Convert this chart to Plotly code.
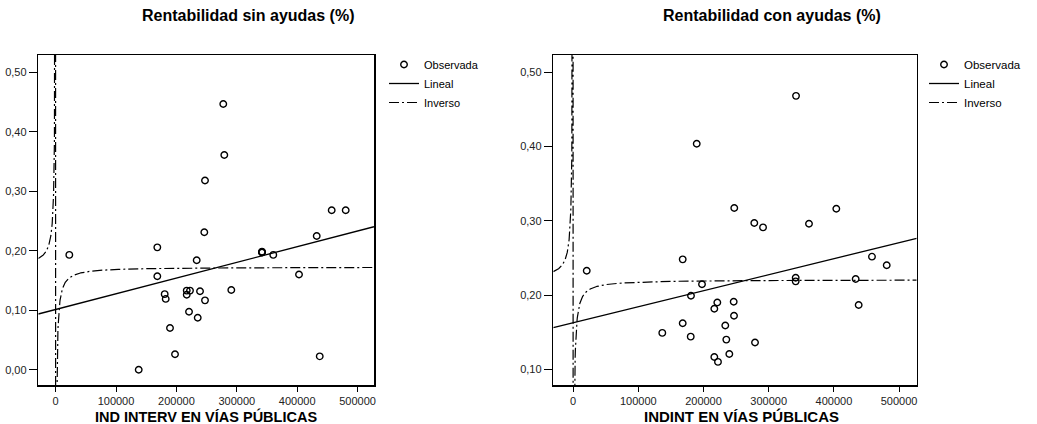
import numpy as np
import plotly.graph_objects as go

W, H = 1037, 424

# ---------------- data ----------------
# Left panel: Rentabilidad sin ayudas (%) vs IND INTERV EN VÍAS PÚBLICAS
x_sin = [277600, 279300, 247350, 246200, 457100, 480300, 432300, 22700, 168400,
         341700, 341700, 341700, 360400, 233600, 168400, 403000, 180600, 182300,
         217100, 222500, 217100, 239100, 290900, 247350, 220900, 235300, 189400,
         197700, 137600, 437300]
y_sin = [0.4466, 0.361, 0.318, 0.231, 0.268, 0.268, 0.2247, 0.193, 0.2057,
         0.197, 0.1985, 0.1975, 0.193, 0.184, 0.157, 0.160, 0.127, 0.119,
         0.133, 0.133, 0.126, 0.132, 0.134, 0.1166, 0.0975, 0.0874, 0.070,
         0.026, 0.000, 0.0225]

# Right panel: Rentabilidad con ayudas (%) vs INDINT EN VÍAS PÚBLICAS
x_con = [341900, 189600, 247200, 403700, 277900, 291300, 361800, 168100, 20900,
         458400, 481000, 341400, 341400, 433400, 438000, 197700, 180800, 221200,
         246300, 216600, 246800, 168100, 233400, 136800, 180400, 235000, 279000,
         216600, 239600, 222200]
y_con = [0.468, 0.4036, 0.317, 0.316, 0.297, 0.291, 0.296, 0.248, 0.2327,
         0.2516, 0.240, 0.2233, 0.2184, 0.2215, 0.1866, 0.2144, 0.199, 0.190,
         0.191, 0.1816, 0.172, 0.162, 0.159, 0.149, 0.144, 0.140, 0.136,
         0.1166, 0.1206, 0.110]

# fitted models (b0, b1):  Lineal y = b0 + b1*x ; Inverso y = b0 + b1/x
lin_sin = (0.1012, 2.64e-7)
inv_sin = (0.1726, -412.0)
lin_con = (0.1627, 2.155e-7)
inv_con = (0.2206, -330.0)

x_ticks = [0, 100000, 200000, 300000, 400000, 500000]
y_ticks_sin = [0.0, 0.1, 0.2, 0.3, 0.4, 0.5]
y_ticks_con = [0.1, 0.2, 0.3, 0.4, 0.5]

titles = ["Rentabilidad sin ayudas (%)", "Rentabilidad con ayudas (%)"]
x_titles = ["IND INTERV EN VÍAS PÚBLICAS", "INDINT EN VÍAS PÚBLICAS"]
legend_names = ["Observada", "Lineal", "Inverso"]

# ---------------- layout geometry (pixels) ----------------
xr_sin = [-28640, 527150]
yr_sin = [-0.0257, 0.529]
xr_con = [-30370, 527000]
yr_con = [0.0789, 0.523]

FONT = "Arial, 'Liberation Sans', sans-serif"
DASH = "10px,3px,2px,3px"


def px_x(p):
    return p / W


def px_y(p):
    return 1 - p / H


def lin_curve(c, xr):
    xs = np.array(xr, dtype=float)
    return xs, c[0] + c[1] * xs


def inv_curve(c, xr):
    xs = np.concatenate([np.linspace(xr[0], -200, 400),
                         np.linspace(200, xr[1], 1600)])
    return xs, c[0] + c[1] / xs


fig = go.Figure()

panels = [
    dict(x=x_sin, y=y_sin, lin=lin_sin, inv=inv_sin, xr=xr_sin, xa="x", ya="y", lg="legend"),
    dict(x=x_con, y=y_con, lin=lin_con, inv=inv_con, xr=xr_con, xa="x2", ya="y2", lg="legend2"),
]

for p in panels:
    fig.add_trace(go.Scatter(
        x=p["x"], y=p["y"], mode="markers", name=legend_names[0],
        marker=dict(symbol="circle-open", size=6.5, color="black", line=dict(width=1.4, color="black")),
        xaxis=p["xa"], yaxis=p["ya"], legend=p["lg"], hoverinfo="skip"))
    lx, ly = lin_curve(p["lin"], p["xr"])
    fig.add_trace(go.Scatter(
        x=lx, y=ly, mode="lines", name=legend_names[1],
        line=dict(color="black", width=1.3),
        xaxis=p["xa"], yaxis=p["ya"], legend=p["lg"], hoverinfo="skip"))
    ix, iy = inv_curve(p["inv"], p["xr"])
    fig.add_trace(go.Scatter(
        x=ix, y=iy, mode="lines", name=legend_names[2],
        line=dict(color="black", width=1.2, dash=DASH),
        xaxis=p["xa"], yaxis=p["ya"], legend=p["lg"], hoverinfo="skip"))

axis_common = dict(showline=True, mirror=True, linecolor="black", linewidth=1.5,
                   showgrid=False, zeroline=False, ticks="outside", tickcolor="black",
                   tickwidth=1, tickfont=dict(family=FONT, size=11, color="#222"),
                   automargin=False, fixedrange=True)

fig.update_layout(
    width=W, height=H,
    margin=dict(l=0, r=0, t=0, b=0, pad=0),
    paper_bgcolor="white", plot_bgcolor="white",
    separators=",.",
    hovermode=False,
    font=dict(family=FONT, color="black"),
    xaxis=dict(domain=[px_x(38.3), px_x(374)], range=xr_sin, tickvals=x_ticks,
               tickformat="d", ticklen=5, anchor="y", **axis_common),
    yaxis=dict(domain=[px_y(385), px_y(55)], range=yr_sin, tickvals=y_ticks_sin,
               tickformat=".2f", ticklen=8, anchor="x", **axis_common),
    xaxis2=dict(domain=[px_x(553.3), px_x(916.7)], range=xr_con, tickvals=x_ticks,
                tickformat="d", ticklen=5, anchor="y2", **axis_common),
    yaxis2=dict(domain=[px_y(385), px_y(55)], range=yr_con, tickvals=y_ticks_con,
                tickformat=".2f", ticklen=8, anchor="x2", **axis_common),
    legend=dict(x=px_x(384), y=px_y(50), xanchor="left", yanchor="top",
                bgcolor="rgba(0,0,0,0)", borderwidth=0, itemwidth=30,
                font=dict(family=FONT, size=11, color="black"), tracegroupgap=0),
    legend2=dict(x=px_x(924), y=px_y(50), xanchor="left", yanchor="top",
                 bgcolor="rgba(0,0,0,0)", borderwidth=0, itemwidth=30,
                 font=dict(family=FONT, size=11.5, color="black"), tracegroupgap=0),
    showlegend=True,
)

annotations = [
    dict(text="<b>%s</b>" % titles[0], x=px_x(248), y=px_y(16), font=dict(size=16)),
    dict(text="<b>%s</b>" % titles[1], x=px_x(772), y=px_y(16), font=dict(size=16)),
    dict(text="<b>%s</b>" % x_titles[0], x=px_x(206), y=px_y(416), font=dict(size=14.5)),
    dict(text="<b>%s</b>" % x_titles[1], x=px_x(741), y=px_y(416), font=dict(size=15)),
]
for a in annotations:
    a.update(xref="paper", yref="paper", xanchor="center", yanchor="middle",
             showarrow=False)
    a["font"].update(family=FONT, color="black")
fig.update_layout(annotations=annotations)

fig.write_html("out.html",
               config={"displayModeBar": False, "staticPlot": True},
               post_script="document.body.style.margin='0';document.body.style.overflow='hidden';")
